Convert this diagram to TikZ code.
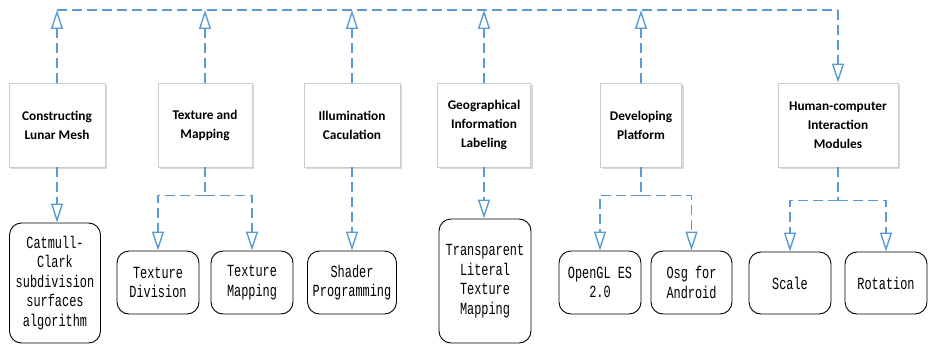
\documentclass[tikz,border=0pt]{standalone}
\usepackage{fontspec}
\usetikzlibrary{arrows.meta,shadows}
\newfontfamily\headfont{Carlito}
\newfontfamily\codefont[FakeStretch=0.7]{Liberation Mono}
\definecolor{linkblue}{HTML}{5B9BD5}
\definecolor{boxedge}{HTML}{CCCCCC}
\begin{document}
\begin{tikzpicture}[x=1pt,y=-1pt,
  module/.style={draw=boxedge, line width=0.9pt, fill=white, align=center,
    font=\headfont\bfseries\fontsize{13.3}{19}\selectfont, inner sep=0pt,
    minimum height=84pt,
    drop shadow={shadow xshift=2pt,shadow yshift=-2pt,fill=black!15,opacity=1}},
  task/.style={draw=black, line width=0.9pt, rounded corners=12pt, align=center,
    font=\codefont\fontsize{17}{19.5}\selectfont, inner sep=0pt},
  link/.style={draw=linkblue, line width=1.4pt, dash pattern=on 10pt off 5pt},
  tip/.style={-{Triangle[open,length=19pt,width=12pt,line width=1.4pt]}}
]
\useasboundingbox[fill=white] (0,0) rectangle (931,345);

% top-level modules
\node[module, minimum width=96pt]  (m1) at (57,125)  {Constructing\\Lunar Mesh};
\node[module, minimum width=94pt]  (m2) at (205,125) {Texture and\\Mapping};
\node[module, minimum width=96pt]  (m3) at (352,125) {Illumination\\Caculation};
\node[module, minimum width=93pt]  (m4) at (484,125) {Geographical\\Information\\Labeling};
\node[module, minimum width=81pt]  (m5) at (641,125) {Developing\\Platform};
\node[module, minimum width=120pt] (m6) at (838,125) {Human-computer\\Interaction\\Modules};

% sub-tasks
\node[task, minimum width=91pt, minimum height=120pt] (c1)  at (55,283)  {Catmull-\\Clark\\subdivision\\surfaces\\algorithm};
\node[task, minimum width=82pt, minimum height=63pt]  (t2a) at (158,282.5) {Texture\\Division};
\node[task, minimum width=82pt, minimum height=63pt]  (t2b) at (252,282.5) {Texture\\Mapping};
\node[task, minimum width=89pt, minimum height=63pt]  (s3)  at (352,282.5) {Shader\\Programming};
\node[task, minimum width=92pt, minimum height=124pt] (l4)  at (485,281)   {Transparent\\Literal\\Texture\\Mapping};
\node[task, minimum width=82pt, minimum height=63pt]  (d5a) at (600,282.5) {OpenGL ES\\2.0};
\node[task, minimum width=81pt, minimum height=63pt]  (d5b) at (691.5,282.5) {Osg for\\Android};
\node[task, minimum width=82pt, minimum height=62pt]  (h6a) at (790,283)   {Scale};
\node[task, minimum width=82pt, minimum height=62pt]  (h6b) at (886,283)   {Rotation};

% upper bus
\coordinate (bus) at (838,10);
\draw[link] (m1.north |- bus) -- (bus);
\draw[link,tip] (bus) -- (m6.north);
\foreach \m in {m1,m2,m3,m4,m5}
  \draw[link,tip] (\m.north) -- (\m.north |- bus);

% lower links
\draw[link,tip] (m1.south) -- (m1.south |- c1.north);
\draw[link] (m2.south) -- ++(0,28) coordinate (j2);
\draw[link,tip] (j2) -| (t2a.north);
\draw[link,tip] (j2) -| (t2b.north);
\draw[link,tip] (m3.south) -- (m3.south |- s3.north);
\draw[link,tip] (m4.south) -- (m4.south |- l4.north);
\draw[link] (m5.south) -- ++(0,28) coordinate (j5);
\draw[link,tip] (j5) -| (d5a.north);
\draw[link,tip] (j5) -| (d5b.north);
\draw[link] (m6.south) -- ++(0,33) coordinate (j6);
\draw[link,tip] (j6) -| (h6a.north);
\draw[link,tip] (j6) -| (h6b.north);
\end{tikzpicture}
\end{document}
